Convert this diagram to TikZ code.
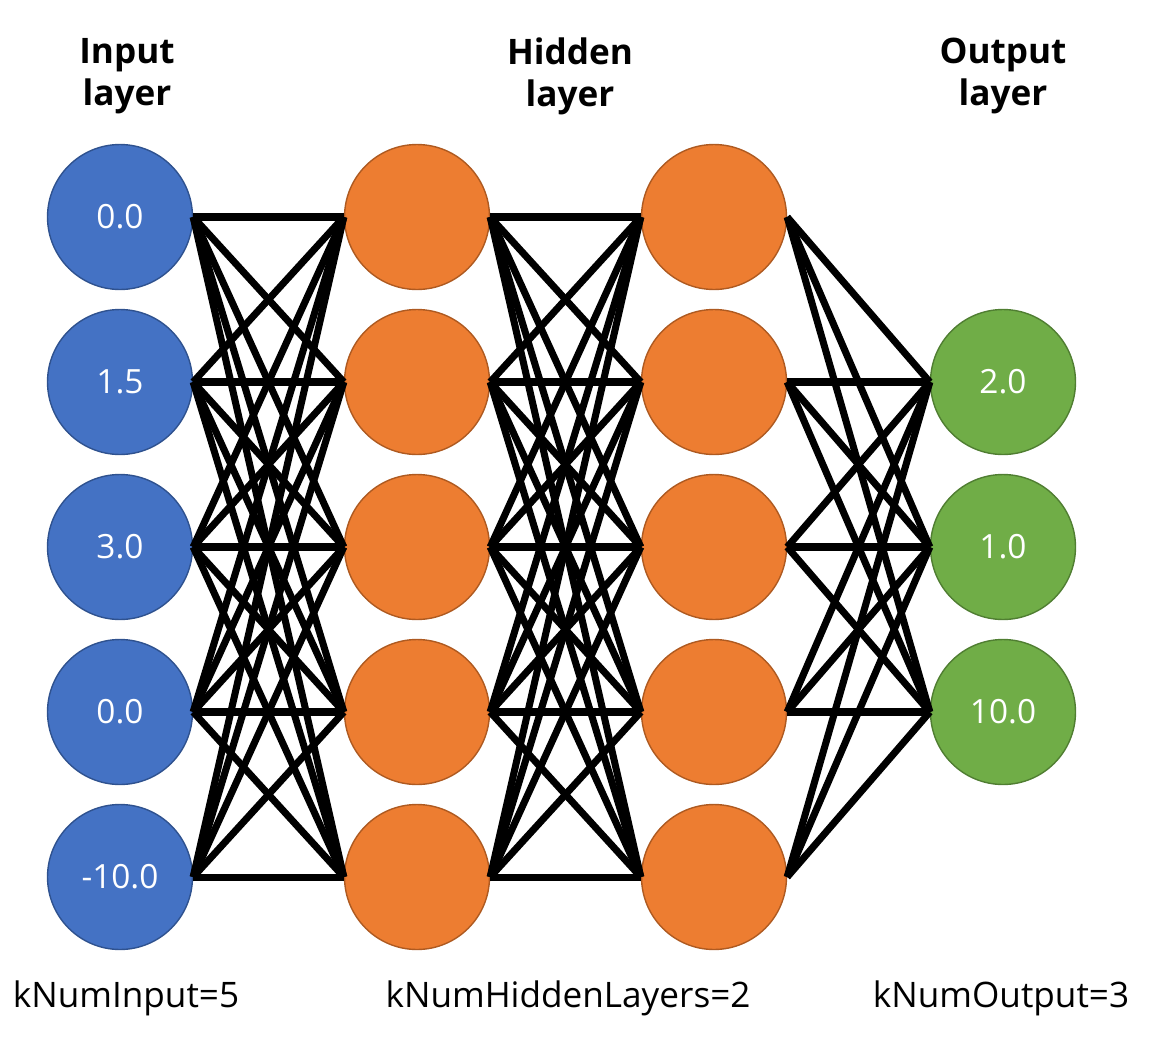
\documentclass[tikz,border=0pt]{standalone}
\usepackage{fontspec}
\setmainfont{Open Sans}
\usetikzlibrary{positioning}
\definecolor{inblue}{HTML}{4472C4}
\definecolor{inblueline}{HTML}{2F528F}
\definecolor{hidorange}{HTML}{ED7D31}
\definecolor{hidorangeline}{HTML}{AE5A21}
\definecolor{outgreen}{HTML}{70AD47}
\definecolor{outgreenline}{HTML}{507E32}
\tikzset{
  >=latex,
}
\tikzstyle{neuron}=[circle,minimum size=2.9cm,inner sep=0pt,line width=0.8pt,text=white,font=\fontsize{19}{23}\selectfont]
\tikzstyle{inneuron}=[neuron,fill=inblue,draw=inblueline]
\tikzstyle{hidneuron}=[neuron,fill=hidorange,draw=hidorangeline]
\tikzstyle{outneuron}=[neuron,fill=outgreen,draw=outgreenline]
\tikzstyle{link}=[line width=4pt]
\tikzstyle{layertitle}=[font=\bfseries\fontsize{20}{24}\selectfont,align=center]
\tikzstyle{countlabel}=[font=\fontsize{20}{24}\selectfont]

\begin{document}
\begin{tikzpicture}[x=0.02cm,y=-0.02cm]
  \useasboundingbox (0,0) rectangle (1149,1038);
  % layers
  \foreach \v [count=\k] in {0.0,1.5,3.0,0.0,-10.0}
    \node[inneuron] (i\k) at (120,52+165*\k) {\v};
  \foreach \k in {1,...,5} {
    \node[hidneuron] (h\k) at (417,52+165*\k) {};
    \node[hidneuron] (g\k) at (714,52+165*\k) {};
  }
  \foreach \v [count=\k] in {2.0,1.0,10.0}
    \node[outneuron] (o\k) at (1003,217+165*\k) {\v};
  % connections
  \foreach \a in {1,...,5}
    \foreach \b in {1,...,5} {
      \draw[link] (i\a.east) -- (h\b.west);
      \draw[link] (h\a.east) -- (g\b.west);
    }
  \foreach \a in {1,...,5}
    \foreach \b in {1,...,3}
      \draw[link] (g\a.east) -- (o\b.west);
  % titles
  \node[layertitle] (tin) at (127,76) {Input\\layer};
  \node[layertitle] (thid) at (570,76) {Hidden\\layer};
  \node[layertitle] (tout) at (1003,76) {Output\\layer};
  \node[countlabel] (nin) at (126,998) {kNumInput=5};
  \node[countlabel] (nhid) at (568,998) {kNumHiddenLayers=2};
  \node[countlabel] (nout) at (1001,998) {kNumOutput=3};
\end{tikzpicture}
\end{document}
